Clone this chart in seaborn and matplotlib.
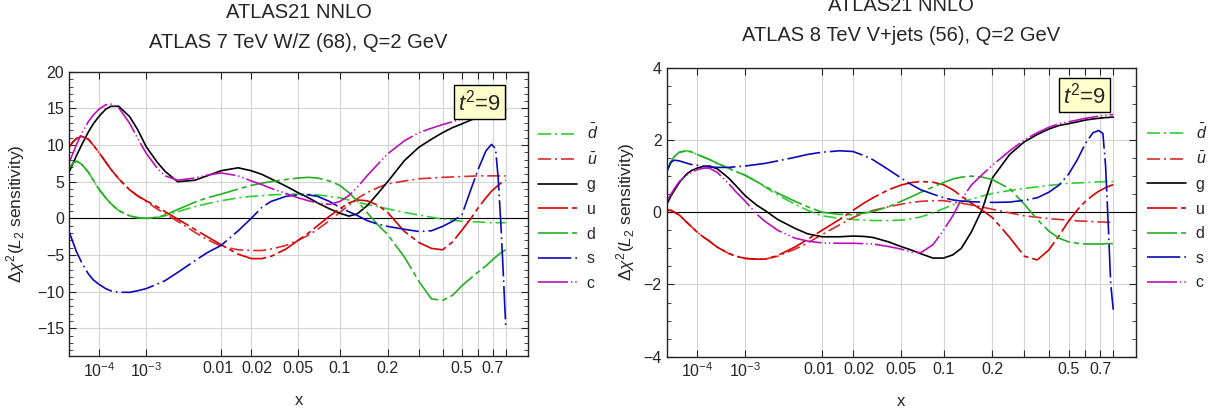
import numpy as np
import matplotlib
matplotlib.use('Agg')
import matplotlib.pyplot as plt
import matplotlib.transforms as mtransforms
import seaborn as sns
from matplotlib.ticker import MultipleLocator, NullLocator
from matplotlib.lines import Line2D

sns.set_style("ticks")
plt.rcParams['font.family'] = ['Liberation Sans', 'DejaVu Sans']
plt.rcParams['mathtext.fontset'] = 'custom'
plt.rcParams['mathtext.rm'] = 'Liberation Sans'
plt.rcParams['mathtext.it'] = 'Liberation Sans:italic'

# -------------------------------
# data
# -------------------------------
x_nodes = [1e-5, 1.5e-5, 2e-5, 3e-5, 5e-5, 7e-5, 1e-4, 1.5e-4, 2e-4, 3e-4, 5e-4, 7e-4,
           1e-3, 1.5e-3, 2e-3, 3e-3, 5e-3, 7e-3, 0.01, 0.015, 0.02, 0.025, 0.03, 0.04,
           0.05, 0.06, 0.07, 0.085, 0.1, 0.115, 0.13, 0.15, 0.175, 0.2, 0.25, 0.3, 0.35,
           0.4, 0.45, 0.5, 0.55, 0.6, 0.65, 0.69, 0.72, 0.74, 0.76, 0.78, 0.8]

# ATLAS 7 TeV W/Z (68)
wz_dbar = [6.8, 7.6, 7.8, 7.4, 6.3, 5.2, 4.0, 2.8, 2.0, 1.05, 0.35, 0.1,
           0.0, 0.1, 0.35, 0.9, 1.6, 2.0, 2.4, 2.8, 3.0, 3.1, 3.2, 3.3,
           3.3, 3.3, 3.2, 3.0, 2.8, 2.5, 2.2, 1.9, 1.6, 1.3, 0.8, 0.45, 0.15,
           -0.1, -0.25, -0.4, -0.45, -0.5, -0.55, -0.6, -0.6, -0.6, -0.6, -0.6, -0.6]
wz_ubar = [9.7, 10.5, 10.9, 11.2, 10.8, 10.0, 9.0, 7.7, 6.7, 5.4, 3.9, 3.1,
           2.3, 1.3, 0.6, -0.4, -1.9, -2.9, -3.8, -4.3, -4.4, -4.4, -4.2, -3.7,
           -3.0, -2.3, -1.5, -0.3, 0.8, 1.8, 2.7, 3.5, 4.2, 4.7, 5.1, 5.4, 5.5,
           5.6, 5.65, 5.7, 5.75, 5.8, 5.8, 5.8, 5.8, 5.8, 5.8, 5.8, 5.8]
wz_g = [6.3, 7.6, 8.6, 10.0, 11.8, 12.9, 13.9, 14.9, 15.3, 15.3, 13.9, 12.2,
        9.8, 7.7, 6.4, 5.0, 5.2, 5.8, 6.5, 6.9, 6.5, 6.0, 5.4, 4.4,
        3.5, 2.8, 2.1, 1.3, 0.7, 0.3, 0.6, 1.7, 3.4, 5.0, 7.9, 9.7, 10.8,
        11.7, 12.4, 12.9, 13.4, 13.8, 14.1, 14.3, 14.5, 14.6, 14.7, 14.75, 14.8]
wz_u = [9.7, 10.5, 10.9, 11.2, 10.8, 10.0, 9.0, 7.7, 6.7, 5.4, 3.9, 3.1,
        2.4, 1.6, 0.9, -0.1, -1.5, -2.5, -3.6, -4.9, -5.5, -5.5, -5.2, -4.2,
        -3.0, -2.0, -1.0, 0.3, 1.3, 2.1, 2.5, 2.4, 1.8, 0.8, -1.8, -3.3, -4.1,
        -4.3, -3.2, -1.6, -0.1, 1.5, 2.8, 3.7, 4.2, 4.5, 4.8, 5.0, 5.2]
wz_d = [6.8, 7.6, 7.8, 7.4, 6.3, 5.2, 4.0, 2.8, 2.0, 1.05, 0.35, 0.1,
        0.0, 0.15, 0.45, 1.2, 2.2, 2.8, 3.3, 4.0, 4.5, 4.8, 5.0, 5.3,
        5.5, 5.6, 5.5, 5.1, 4.5, 3.5, 2.4, 0.8, -0.9, -2.2, -5.3, -8.6, -11.0,
        -11.2, -10.5, -9.2, -8.2, -7.3, -6.5, -5.8, -5.3, -5.0, -4.7, -4.5, -4.3]
wz_s = [-1.8, -3.4, -4.6, -6.0, -7.6, -8.4, -9.0, -9.6, -9.9, -10.1, -10.1, -9.9,
        -9.6, -9.0, -8.5, -7.4, -5.8, -4.7, -3.7, -1.7, 0.0, 1.5, 2.3, 3.0,
        3.2, 3.2, 3.0, 2.3, 1.5, 0.9, 0.4, -0.3, -0.8, -1.1, -1.5, -1.8, -1.7,
        -1.1, -0.4, 0.5, 3.8, 6.8, 9.2, 10.1, 9.5, 5.5, -0.5, -7.5, -14.8]
wz_c = [7.6, 9.0, 10.1, 11.6, 13.2, 14.1, 14.9, 15.5, 15.6, 15.1, 13.0, 11.0,
        8.9, 6.9, 5.8, 5.2, 5.5, 5.9, 6.2, 5.8, 5.1, 4.6, 4.1, 3.4,
        2.8, 2.4, 2.1, 1.9, 2.3, 3.1, 4.2, 5.8, 7.4, 8.8, 10.6, 11.7, 12.3,
        12.8, 13.2, 13.6, 14.0, 14.3, 14.6, 14.8, 14.9, 14.95, 15.0, 15.05, 15.1]

# ATLAS 8 TeV V+jets (56)
vj_dbar = [1.1, 1.4, 1.54, 1.66, 1.7, 1.67, 1.6, 1.52, 1.46, 1.35, 1.22, 1.12,
           1.02, 0.85, 0.7, 0.48, 0.22, 0.05, -0.1, -0.17, -0.2, -0.22, -0.23, -0.23,
           -0.22, -0.18, -0.13, -0.02, 0.1, 0.2, 0.28, 0.36, 0.45, 0.52, 0.6, 0.66, 0.7,
           0.74, 0.77, 0.8, 0.81, 0.82, 0.83, 0.84, 0.84, 0.85, 0.85, 0.85, 0.85]
vj_ubar = [0.06, 0.05, 0.0, -0.08, -0.27, -0.4, -0.55, -0.7, -0.8, -0.97, -1.14, -1.22,
           -1.28, -1.3, -1.3, -1.22, -1.02, -0.85, -0.62, -0.35, -0.15, -0.02, 0.05, 0.15,
           0.22, 0.27, 0.3, 0.32, 0.32, 0.28, 0.25, 0.2, 0.14, 0.08, -0.02, -0.1, -0.14,
           -0.18, -0.2, -0.22, -0.24, -0.25, -0.26, -0.27, -0.27, -0.28, -0.28, -0.28, -0.28]
vj_g = [0.2, 0.45, 0.6, 0.82, 1.05, 1.15, 1.22, 1.27, 1.28, 1.2, 0.95, 0.72,
        0.45, 0.2, 0.05, -0.2, -0.45, -0.6, -0.68, -0.68, -0.66, -0.67, -0.7, -0.82,
        -0.95, -1.05, -1.15, -1.27, -1.27, -1.18, -1.0, -0.55, 0.1, 0.95, 1.6, 1.95, 2.15,
        2.3, 2.4, 2.45, 2.5, 2.55, 2.58, 2.6, 2.61, 2.62, 2.62, 2.63, 2.63]
vj_u = [0.06, 0.05, 0.0, -0.08, -0.27, -0.4, -0.55, -0.7, -0.8, -0.97, -1.14, -1.22,
        -1.28, -1.3, -1.3, -1.2, -0.96, -0.75, -0.5, -0.2, 0.05, 0.25, 0.4, 0.62,
        0.75, 0.82, 0.85, 0.83, 0.76, 0.62, 0.45, 0.25, 0.05, -0.15, -0.7, -1.22, -1.32,
        -1.05, -0.65, -0.25, 0.06, 0.3, 0.47, 0.58, 0.64, 0.68, 0.71, 0.74, 0.76]
vj_d = [1.1, 1.4, 1.54, 1.66, 1.7, 1.67, 1.6, 1.52, 1.46, 1.35, 1.22, 1.12,
        1.02, 0.85, 0.72, 0.53, 0.3, 0.15, 0.0, -0.06, -0.07, -0.03, 0.02, 0.15,
        0.3, 0.43, 0.55, 0.7, 0.82, 0.92, 0.97, 1.0, 0.97, 0.9, 0.65, 0.22, -0.2,
        -0.52, -0.72, -0.82, -0.86, -0.88, -0.88, -0.88, -0.88, -0.87, -0.87, -0.87, -0.87]
vj_s = [1.12, 1.38, 1.44, 1.42, 1.36, 1.32, 1.3, 1.27, 1.25, 1.24, 1.24, 1.26,
        1.28, 1.32, 1.35, 1.42, 1.52, 1.6, 1.66, 1.7, 1.68, 1.57, 1.45, 1.18,
        0.95, 0.76, 0.62, 0.5, 0.4, 0.34, 0.31, 0.29, 0.28, 0.27, 0.28, 0.33, 0.4,
        0.55, 0.75, 1.05, 1.45, 1.9, 2.2, 2.26, 2.18, 1.3, -0.3, -2.0, -2.7]
vj_c = [0.3, 0.5, 0.65, 0.85, 1.02, 1.1, 1.18, 1.22, 1.22, 1.1, 0.8, 0.55,
        0.3, -0.05, -0.25, -0.5, -0.72, -0.8, -0.85, -0.86, -0.86, -0.87, -0.88, -0.95,
        -1.02, -1.1, -1.12, -0.9, -0.5, -0.1, 0.35, 0.75, 1.05, 1.3, 1.7, 2.0, 2.2,
        2.35, 2.45, 2.5, 2.55, 2.6, 2.63, 2.66, 2.67, 2.68, 2.69, 2.7, 2.7]

labels = [r'$\bar{d}$', r'$\bar{u}$', 'g', 'u', 'd', 's', 'c']
colors = ['#2fd02f', '#dd2a2a', 'black', '#d40000', '#22b022', '#0a0ab8', '#bb10bb']
styles = [(0, (7.8, 2.4, 1.2, 2.4)), (0, (7.8, 2.4, 1.2, 2.4)), '-',
          (0, (18, 2.4, 3, 2.4)), (0, (18, 2.4, 3, 2.4)),
          (0, (20, 2.4, 1, 2.4)), (0, (18, 1.8, 0.8, 1.8, 0.8, 1.8))]

x_ticks = [1e-4, 1e-3, 0.01, 0.02, 0.05, 0.1, 0.2, 0.3, 0.4, 0.5, 0.6, 0.7, 0.8]
x_tick_labels = ['$10^{-4}$', '$10^{-3}$', '0.01', '0.02', '0.05', '0.1', '0.2',
                 '', '', '0.5', '', '0.7', '']

panels = [
    dict(title="ATLAS21 NNLO\nATLAS 7 TeV W/Z (68), Q=2 GeV",
         series=[wz_dbar, wz_ubar, wz_g, wz_u, wz_d, wz_s, wz_c],
         rect=[0.057, 0.138, 0.379, 0.688], ylim=(-18.8, 20), major=5, minor=1,
         box=(0.894, 0.893), leg=(1.022, 0.82), ylab_x=-0.0915, pad=17),
    dict(title="ATLAS21 NNLO\nATLAS 8 TeV V+jets (56), Q=2 GeV",
         series=[vj_dbar, vj_ubar, vj_g, vj_u, vj_d, vj_s, vj_c],
         rect=[0.5504, 0.1363, 0.3877, 0.6998], ylim=(-4, 4), major=2, minor=0.5,
         box=(0.89, 0.904), leg=(1.023, 0.81), ylab_x=-0.063, pad=19),
]

fig = plt.figure(figsize=(12.11, 4.13), dpi=100)

for p in panels:
    ax = fig.add_axes(p['rect'])
    ax.set_xscale('function', functions=(lambda v: np.power(np.abs(v), 0.2),
                                         lambda v: np.power(np.abs(v), 5)))
    ax.axhline(0, color='black', lw=0.8, zorder=1)
    for yv, lab, col, ls in zip(p['series'], labels, colors, styles):
        sns.lineplot(x=x_nodes, y=yv, ax=ax, color=col, lw=1.2, linestyle=ls,
                     sort=False, estimator=None, label=lab, legend=False)

    ax.set_xlim(1e-5, 1)
    ax.set_ylim(*p['ylim'])
    ax.set_xticks(x_ticks)
    ax.set_xticklabels(x_tick_labels)
    ax.xaxis.set_minor_locator(NullLocator())
    ax.yaxis.set_major_locator(MultipleLocator(p['major']))
    ax.yaxis.set_minor_locator(MultipleLocator(p['minor']))
    ax.grid(True, which='major', color='#d4d4d4', lw=0.8)
    ax.set_axisbelow(True)
    ax.tick_params(which='both', direction='in', top=True, right=True, labelsize=11.5)
    ax.tick_params(which='major', length=5, width=0.8)
    ax.tick_params(which='minor', length=3, width=0.6)
    for sp in ax.spines.values():
        sp.set_linewidth(1.0)
        sp.set_color('#222222')

    # nudge the crowded 0.01 / 0.02 labels apart, as in the original
    tl = ax.get_xticklabels()
    tl[2].set_transform(tl[2].get_transform() +
                        mtransforms.ScaledTranslation(-3 / 100, 0, fig.dpi_scale_trans))
    tl[3].set_transform(tl[3].get_transform() +
                        mtransforms.ScaledTranslation(6 / 100, 0, fig.dpi_scale_trans))

    ax.set_title(p['title'], fontsize=14.5, linespacing=1.75, pad=p['pad'])
    ax.set_xlabel('x', fontsize=12)
    ax.xaxis.set_label_coords(0.5, -0.13)
    ax.set_ylabel(r'$\Delta\chi^{2}(L_{2}$ sensitivity)', fontsize=12.5)
    ax.yaxis.set_label_coords(p['ylab_x'], 0.5)

    ax.text(p['box'][0], p['box'][1], r'$t^{2}$=9', transform=ax.transAxes,
            ha='center', va='center', fontsize=16, zorder=5,
            bbox=dict(boxstyle='square,pad=0.18', fc='#ffffcc', ec='black', lw=1.0))

    handles = [Line2D([], [], color=c, lw=1.2, linestyle=s) for c, s in zip(colors, styles)]
    ax.legend(handles, labels, loc='upper left', bbox_to_anchor=p['leg'], frameon=False,
              fontsize=11.5, handlelength=2.45, handletextpad=0.6, labelspacing=0.6,
              borderpad=0, borderaxespad=0)

fig.savefig('out.png', dpi=100)
